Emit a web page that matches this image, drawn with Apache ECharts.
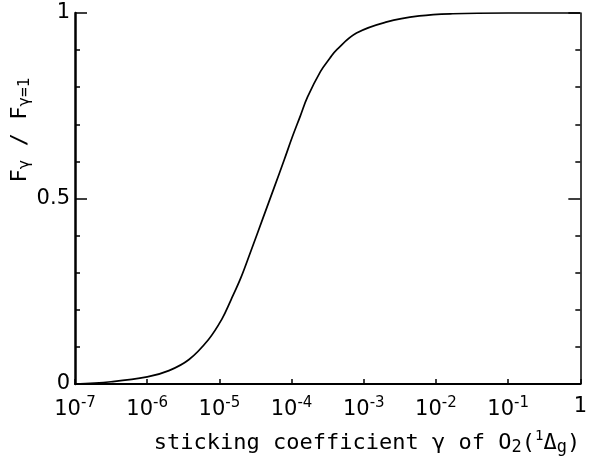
<!DOCTYPE html>
<html>
<head>
<meta charset="utf-8">
<script src="https://cdn.jsdelivr.net/npm/echarts@6/dist/echarts.min.js"></script>
<style>
html,body{margin:0;padding:0;background:#fff;}
#c{width:590px;height:459px;}
</style>
</head>
<body>
<div id="c"></div>
<script>
// sticking coefficient gamma (x) and F_gamma / F_gamma=1 (y)
const gammaValues = [1e-7, 3.16e-7, 1e-6, 2.0e-6, 3.8e-6, 7.08e-6, 1.07e-5, 1.45e-5, 2.0e-5, 2.75e-5, 3.98e-5, 5.75e-5, 7.94e-5, 1.02e-4, 1.32e-4, 1.66e-4, 2.51e-4, 3.39e-4, 4.27e-4, 7.94e-4, 2.09e-3, 5.89e-3, 1.7e-2, 0.1, 1];
const ratioValues = [0, 0.006, 0.019, 0.036, 0.066, 0.12, 0.173, 0.227, 0.288, 0.36, 0.445, 0.53, 0.605, 0.665, 0.722, 0.773, 0.842, 0.878, 0.902, 0.946, 0.976, 0.992, 0.998, 1.0, 1.0];
const yTickLabels = ['0', '0.5', '1'];
const xTitle = 'sticking coefficient γ of O{sub|2}({sup|1}Δ{sub|g})';
const yTitle = 'F{sub|γ} / F{sub|γ=1}';

const chart = echarts.init(document.getElementById('c'), null, {renderer: 'canvas'});
const labelFont = 'DejaVu Sans';
const titleFont = 'DejaVu Sans Mono';

const option = {
  backgroundColor: '#fff',
  animation: false,
  grid: {left: 75, right: 2, top: 13, bottom: 75, containLabel: false},
  xAxis: {
    type: 'log', logBase: 10, min: 1e-7, max: 1, interval: 1,
    axisLine: {show: true, lineStyle: {color: '#000', width: 2}},
    axisTick: {show: true, inside: true, length: 5, lineStyle: {color: '#000', width: 1.5}},
    minorTick: {show: false},
    splitLine: {show: false},
    axisLabel: {
      margin: 12, color: '#000', fontFamily: labelFont, fontSize: 21,
      formatter: function (v) {
        const e = Math.round(Math.log10(v));
        if (e === 0) return '1';
        return '10{sup|' + e + '}';
      },
      rich: {
        sup: {fontSize: 15, fontFamily: labelFont, color: '#000', verticalAlign: 'top', padding: [0, 0, 13, 0]}
      }
    }
  },
  yAxis: [
    {
      type: 'value', position: 'left', min: 0, max: 1, interval: 0.5,
      axisLine: {show: true, lineStyle: {color: '#000', width: 2.5}},
      axisTick: {show: true, inside: true, length: 12, lineStyle: {color: '#000', width: 1.5}},
      minorTick: {show: true, splitNumber: 5, length: 5, lineStyle: {color: '#000', width: 1.5}},
      splitLine: {show: false},
      axisLabel: {
        margin: 5, color: '#000', fontFamily: labelFont, fontSize: 21,
        formatter: function (v) { return yTickLabels[Math.round(v * 2)]; }
      }
    },
    {
      type: 'value', position: 'right', min: 0, max: 1, interval: 0.5,
      axisLine: {show: true, lineStyle: {color: '#000', width: 1.5}},
      axisTick: {show: true, inside: true, length: 12, lineStyle: {color: '#000', width: 1.5}},
      minorTick: {show: true, splitNumber: 5, length: 5, lineStyle: {color: '#000', width: 1.5}},
      splitLine: {show: false},
      axisLabel: {show: false}
    }
  ],
  series: [{
    type: 'line',
    yAxisIndex: 0,
    data: gammaValues.map((g, i) => [g, ratioValues[i]]),
    smooth: 0.4,
    showSymbol: false,
    symbol: 'none',
    lineStyle: {color: '#000', width: 1.7},
    clip: false
  }],
  graphic: [
    {
      type: 'text', x: 367, y: 443,
      style: {
        text: xTitle, align: 'center', verticalAlign: 'middle',
        fontFamily: titleFont, fontSize: 22, fill: '#000',
        rich: {
          sub: {fontFamily: titleFont, fontSize: 17, fill: '#000', verticalAlign: 'bottom', padding: [10, 0, 0, 0]},
          sup: {fontFamily: titleFont, fontSize: 14, fill: '#000', verticalAlign: 'top', padding: [0, 0, 12, 0]}
        }
      }
    },
    {
      type: 'text', x: 20, y: 130, rotation: Math.PI / 2,
      style: {
        text: yTitle, align: 'center', verticalAlign: 'middle',
        fontFamily: titleFont, fontSize: 22, fill: '#000',
        rich: {
          sub: {fontFamily: titleFont, fontSize: 16, fill: '#000', verticalAlign: 'bottom', padding: [10, 0, 0, 0]}
        }
      }
    }
  ]
};
chart.setOption(option);
</script>
</body>
</html>
